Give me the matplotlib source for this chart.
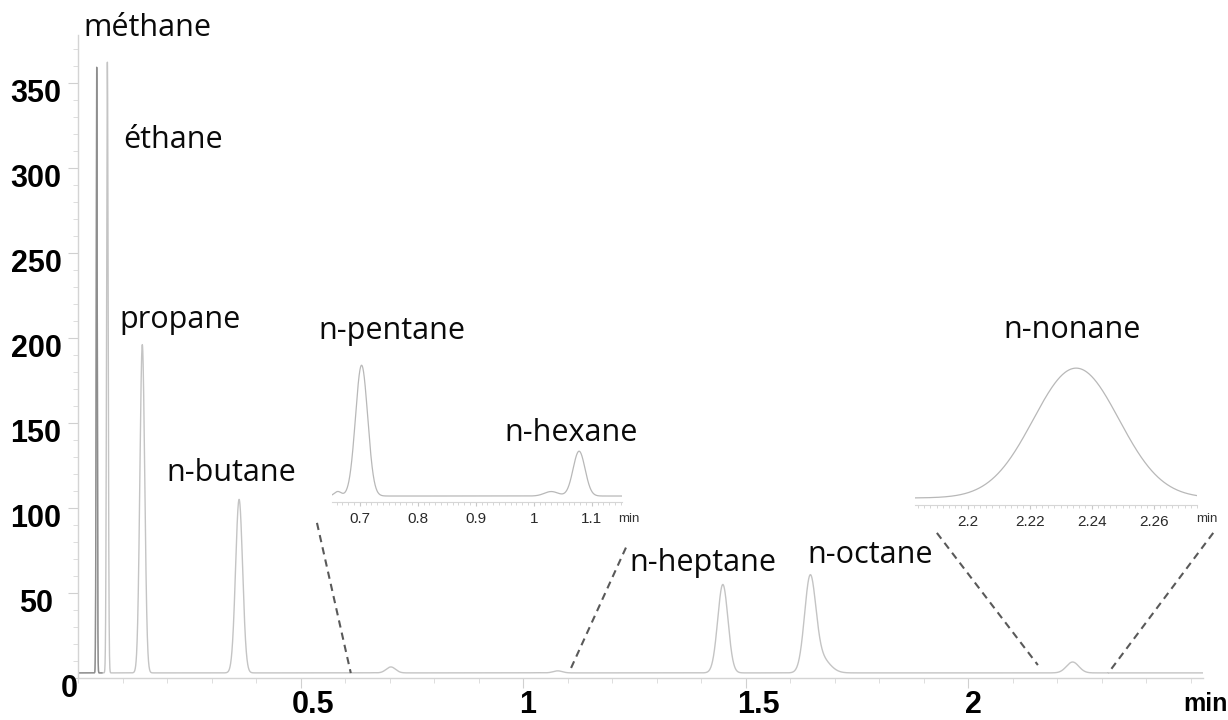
import numpy as np
import matplotlib
matplotlib.use("Agg")
import matplotlib.pyplot as plt
from matplotlib.transforms import blended_transform_factory as blend, ScaledTranslation
from matplotlib.ticker import MultipleLocator, FixedLocator

# ---------------- data ----------------
peak_names = ["méthane", "éthane", "propane", "n-butane", "n-pentane",
              "n-hexane", "n-heptane", "n-octane", "n-nonane"]
retention_min = [0.042, 0.066, 0.1445, 0.362, 0.703, 1.078, 1.449, 1.645, 2.235]
peak_height = [356, 359, 193, 102, 3.5, 1.2, 52, 53, 6.4]
peak_sigma = [0.0012, 0.0018, 0.0054, 0.0079, 0.0105, 0.0103, 0.0115, 0.0125, 0.0138]

# small secondary features (shoulders / tails)
shoulder_min = [0.662, 1.030, 1.668]
shoulder_height = [0.12, 0.12, 9.0]
shoulder_sigma = [0.006, 0.012, 0.02]

baseline_level = 3.0

# label anchor positions (min, signal units)
label_x = [0.155, 0.213, 0.229, 0.344, 0.706, 1.108, 1.404, 1.780, 2.234]
label_y = [382, 316.5, 210.6, 120.6, 204, 144, 67.6, 72.4, 204.7]

y_ticks = [50, 100, 150, 200, 250, 300, 350]
x_ticks = [0.5, 1.0, 1.5, 2.0]
x_tick_labels = ["0.5", "1", "1.5", "2"]
x_label_dx = [13, 5, 13, 5]

inset1_ticks = [0.7, 0.8, 0.9, 1.0, 1.1]
inset1_labels = ["0.7", "0.8", "0.9", "1", "1.1"]
inset2_ticks = [2.20, 2.22, 2.24, 2.26]
inset2_labels = ["2.2", "2.22", "2.24", "2.26"]

# ---------------- signal ----------------
t = np.arange(0.0, 2.53, 0.0002)
signal = np.full_like(t, baseline_level)
for rt, h, s in zip(retention_min + shoulder_min,
                    peak_height + shoulder_height,
                    peak_sigma + shoulder_sigma):
    signal += h * np.exp(-0.5 * ((t - rt) / s) ** 2)

# ---------------- figure ----------------
W, H, DPI = 1228, 720, 100
fig = plt.figure(figsize=(W / DPI, H / DPI), dpi=DPI)


def fx(px):
    return px / W


def fy(py):
    return 1 - py / H


def px_off(dx, dy):
    return ScaledTranslation(dx / DPI, dy / DPI, fig.dpi_scale_trans)


ax = fig.add_axes([fx(78), fy(678), fx(1203) - fx(78), fy(35) - fy(678)])
ax.set_xlim(0, 2.528)
ax.set_ylim(0, 378)

trace_col = "#c4c4c4"
ax.plot(t, signal, color=trace_col, lw=1.0)
m = t < 0.054
ax.plot(t[m], signal[m], color="#8e8e8e", lw=1.0)

for s in ["top", "right"]:
    ax.spines[s].set_visible(False)
for s in ["left", "bottom"]:
    ax.spines[s].set_color("#d4d4d4")
    ax.spines[s].set_linewidth(1.0)

ax.yaxis.set_major_locator(FixedLocator([0] + y_ticks))
ax.yaxis.set_minor_locator(MultipleLocator(10))
ax.xaxis.set_major_locator(FixedLocator(x_ticks))
ax.xaxis.set_minor_locator(MultipleLocator(0.1))
ax.tick_params(which="major", length=7, color="#d0d0d0", labelleft=False, labelbottom=False)
ax.tick_params(which="minor", length=3.5, color="#d8d8d8")

tick_font = dict(family="Liberation Sans", weight="bold", size=22, color="black")

ylab_tr = blend(fig.transFigure, ax.transData) + px_off(0, -11)
for v in y_ticks:
    ax.text(fx(36), v, str(v), transform=ylab_tr, ha="center", va="center", **tick_font)
fig.text(fx(69), fy(689), "0", ha="center", va="center", **tick_font)

for v, lab, dx in zip(x_ticks, x_tick_labels, x_label_dx):
    tr = blend(ax.transData, ax.transAxes) + px_off(dx, -27)
    ax.text(v, 0, lab, transform=tr, ha="center", va="center", **tick_font)
fig.text(fx(1205), fy(704), "min", ha="center", va="center",
         family="Liberation Sans", weight="bold", size=18, color="black")

# compound labels
for name, lx, ly in zip(peak_names, label_x, label_y):
    ax.text(lx, ly, name, ha="center", va="center", family="Open Sans",
            size=22, color="#0a0a0a", clip_on=False)

# dashed connectors
dash = dict(color="#595959", lw=1.5, ls=(0, (3.5, 2.5)), clip_on=False)
ax.plot([0.537, 0.613], [91.2, 2.9], **dash)
ax.plot([1.108, 1.234], [5.9, 78.2], **dash)
ax.plot([1.930, 2.157], [85.3, 7.6], **dash)
ax.plot([2.551, 2.315], [85.3, 2.9], **dash)


def make_inset(rect, xlim, ylim, ticks, labels, minor, min_pos):
    a = fig.add_axes(rect)
    sel = (t >= xlim[0]) & (t <= xlim[1])
    a.plot(t[sel], signal[sel], color="#b8b8b8", lw=0.9)
    a.set_xlim(*xlim)
    a.set_ylim(*ylim)
    a.patch.set_alpha(0)
    for s in ["top", "right", "left"]:
        a.spines[s].set_visible(False)
    a.spines["bottom"].set_color("#d6d6d6")
    a.yaxis.set_visible(False)
    a.xaxis.set_major_locator(FixedLocator(ticks))
    a.set_xticklabels(labels)
    a.xaxis.set_minor_locator(MultipleLocator(minor))
    a.tick_params(which="major", length=3, color="#c8c8c8", labelsize=11,
                  labelcolor="#2a2a2a", pad=4)
    a.tick_params(which="minor", length=1.8, color="#d0d0d0")
    for lb in a.get_xticklabels():
        lb.set_family("Liberation Sans")
    fig.text(fx(min_pos[0]), fy(min_pos[1]), "min", ha="center", va="center",
             family="Liberation Sans", size=9.5, color="#333333")
    return a


make_inset([fx(332), fy(502), fx(622) - fx(332), fy(360) - fy(502)],
           (0.652, 1.152), (2.84, 6.64), inset1_ticks, inset1_labels, 0.01, (629, 519))
make_inset([fx(915), fy(505), fx(1197) - fx(915), fy(360) - fy(505)],
           (2.183, 2.274), (2.655, 9.8), inset2_ticks, inset2_labels, 0.002, (1207, 519))

fig.savefig("out.png", dpi=DPI)
